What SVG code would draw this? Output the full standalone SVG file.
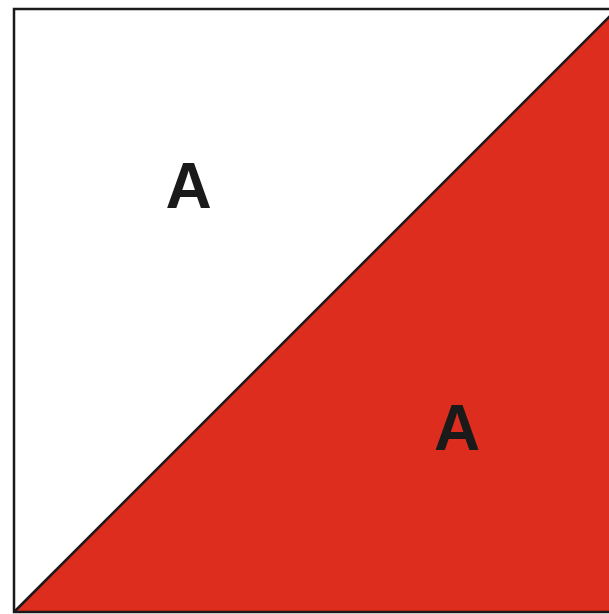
<svg xmlns="http://www.w3.org/2000/svg" width="609" height="614" viewBox="0 0 609 614">
<style>
.edge{stroke:#1a1a1a;stroke-width:2.5;fill:none;stroke-linejoin:miter}
.lbl{font-family:"Liberation Sans",Arial,sans-serif;font-weight:bold;font-size:64px;fill:#1a1a1a;text-anchor:middle}
</style>
<g id="red-half">
<polygon points="14,612 617,9 617,612" fill="#dc2d1e"/>
</g>
<g id="connectors">
<rect class="edge" x="14" y="9" width="603" height="603"/>
<line class="edge" x1="14" y1="612" x2="617" y2="9"/>
</g>
<g id="label-top"><text class="lbl" x="188.5" y="208">A</text></g>
<g id="label-bottom"><text class="lbl" x="457" y="450">A</text></g>
</svg>
